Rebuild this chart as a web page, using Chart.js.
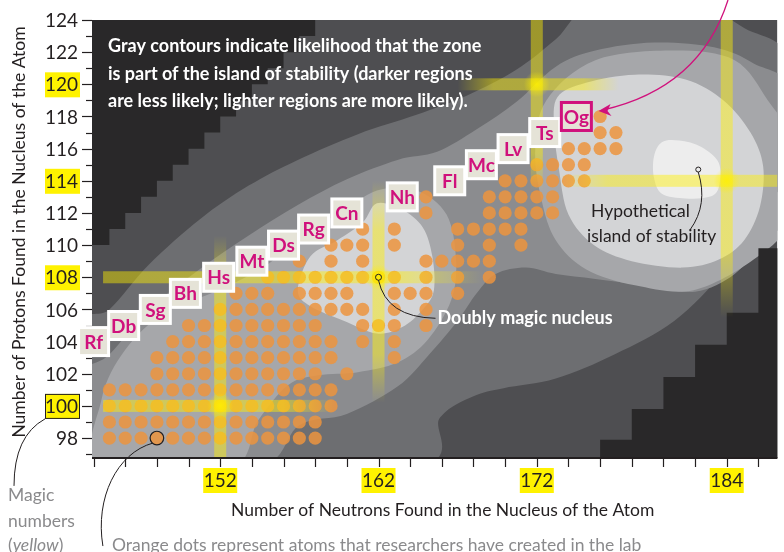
<!DOCTYPE html>
<html>
<head>
<meta charset="utf-8">
<script src="https://cdn.jsdelivr.net/npm/chart.js@4/dist/chart.umd.min.js"></script>
<style>
  html, body { margin: 0; padding: 0; background: #fff; }
  #wrap { width: 784px; height: 552px; }
</style>
</head>
<body>
<div id="wrap"><canvas id="chart"></canvas></div>
<script>
// Created nuclei: one row of neutron numbers per proton number
const protons = [98, 99, 100, 101, 102, 103, 104, 105, 106, 107, 108, 109, 110, 111, 112, 113, 114, 115, 116, 117, 118];
const neutronsPerRow = [
  [145, 146, 147, 148, 149, 150, 151, 152, 153, 154, 155, 156, 157, 158],
  [145, 146, 147, 148, 149, 150, 151, 152, 153, 154, 155, 156, 157, 158],
  [145, 146, 147, 148, 149, 150, 151, 152, 153, 154, 155, 156, 157, 158, 159],
  [145, 146, 147, 148, 149, 150, 151, 152, 153, 154, 155, 156, 157, 158, 159],
  [148, 149, 150, 151, 152, 153, 154, 155, 156, 157, 158, 160],
  [148, 149, 150, 151, 152, 153, 154, 155, 156, 157, 158, 159, 163],
  [149, 150, 151, 152, 153, 154, 155, 156, 157, 158, 159, 161, 163],
  [150, 151, 152, 153, 154, 155, 156, 157, 158, 161, 162, 163, 165],
  [152, 153, 154, 155, 156, 157, 158, 159, 160, 161, 163, 165],
  [153, 154, 155, 157, 158, 159, 160, 163, 164, 165, 167],
  [155, 156, 157, 158, 159, 160, 161, 162, 163, 165, 167, 169],
  [157, 159, 161, 165, 166, 167, 168, 169],
  [159, 160, 161, 163, 167, 169, 171],
  [161, 163, 167, 168, 169, 170, 171],
  [165, 169, 170, 171, 172, 173],
  [165, 169, 170, 171, 172, 173],
  [170, 171, 172, 173, 174, 175],
  [172, 173, 174, 175],
  [174, 175, 176, 177],
  [176, 177],
  [176]
];

// Element labels along the edge of the known region
const elements = ['Rf', 'Db', 'Sg', 'Bh', 'Hs', 'Mt', 'Ds', 'Rg', 'Cn', 'Nh', 'Fl', 'Mc', 'Lv', 'Ts', 'Og'];
const elementZ = [104, 105, 106, 107, 108, 109, 110, 111, 112, 113, 114, 115, 116, 117, 118];
const elementN = [144, 145.9, 147.9, 149.8, 151.9, 154, 156, 157.9, 160, 163.5, 166.5, 168.5, 170.5, 172.5, 174.5];

// Magic numbers (yellow bands)
const magicN = [152, 162, 172, 184];
const magicNFrom = [96.8, 100.2, 113.4, 105.5];
const magicNTo = [110.6, 114, 124, 124];
const magicZ = [100, 108, 114, 120];
const magicZFrom = [144.6, 144.6, 173.4, 167];
const magicZTo = [159.2, 168.6, 187.2, 177.2];

// Axis ticks
const yTicks = [98, 100, 102, 104, 106, 108, 110, 112, 114, 116, 118, 120, 122, 124];
const xLabels = [152, 162, 172, 184];

// Gray likelihood contours, [neutrons, protons]
const contourTopBlack = [[143, 125], [143, 110], [145, 110], [145, 111], [146, 111], [146, 112], [147, 112], [147, 113],
  [148, 113], [148, 114], [149, 114], [149, 115], [150, 115], [150, 116], [151, 116], [151, 117], [152, 117], [152, 118],
  [153, 118], [153, 119], [154, 119], [154, 120], [155, 120], [155, 121], [156, 121], [156, 122], [157, 122], [157, 123],
  [158, 123], [158, 125]];
const contourBottomBlack = [[176, 96], [176, 97.9], [178, 97.9], [178, 99.8], [180, 99.8], [180, 101.8], [182, 101.8],
  [182, 103.8], [184, 103.8], [184, 105.8], [186, 105.8], [186, 109.8], [188, 109.8], [188, 96]];
const contourBand1 = [[143, 96], [163.8, 96], [165.9, 99.3], [168, 100.6], [169.9, 101.1], [173.2, 101.7], [176.9, 103.2],
  [180.7, 105.3], [183.8, 108.4], [185.7, 111.9], [188, 114.7], [188, 121.5], [185.1, 123.5], [181.9, 125], [175.7, 125],
  [173.2, 122.8], [170.7, 120.9], [167.6, 119.3], [164.4, 118.1], [160.7, 116.9], [156.9, 115.3], [153.8, 113.7],
  [150.7, 111.6], [147.5, 108.8], [145, 106], [143, 104.7]];
const contourBand2 = [[143, 96], [154, 96], [157, 98.8], [160, 99.5], [163.2, 101.2], [165.2, 103.2], [167, 105.3],
  [168.2, 107], [169.4, 108.2], [171.3, 108.6], [173.2, 108.2], [175.7, 107.9], [178.8, 107.5], [182, 107.1], [184.5, 108.2],
  [186.3, 110.3], [188, 112.2], [188, 119.5], [185.7, 121.3], [183.2, 122.3], [179.4, 122.6], [175.7, 122.1], [173.2, 121.1],
  [170.7, 118.9], [168.2, 117.2], [165.7, 115.8], [163.2, 115.3], [160, 114.1], [156.9, 112.5], [153.8, 110.6], [150.7, 108.5],
  [147.5, 106], [145, 103.2], [143, 101.6]];
const contourBand3a = [[144.4, 96], [144.5, 100.4], [146, 103.5], [148.5, 105.8], [151.9, 107.2], [155, 108.8], [156.9, 110.6],
  [159.4, 111.9], [161.9, 113.4], [164.4, 113.4], [166.3, 111.9], [166.9, 109.1], [166.6, 106.6], [165.1, 104.1], [163.2, 102.7],
  [160.7, 102.1], [158.2, 101.9], [156.3, 101.3], [154.4, 99.1], [152.5, 96]];
const contourBand3b = [[172.6, 119], [175.7, 121.5], [180.7, 122.1], [184.5, 121.5], [186.6, 119], [188, 116.5], [188, 111.6],
  [185.7, 109.1], [181.9, 107.2], [178.2, 107.5], [175.1, 108.5], [173.2, 110.3], [172.3, 112.8], [171.9, 115.9]];
const contourMagicBlob = [[156.9, 107.2], [157.7, 109.3], [159.4, 110.3], [161, 111.4], [161.9, 112.6], [163.5, 112.2],
  [164.8, 111.1], [165.4, 109.3], [165.5, 107.2], [164.8, 106], [163.5, 104.9], [161.9, 104.5], [159.8, 105.3], [157.7, 106.2]];
const contourIsland = [[173.3, 119.2], [175.1, 120.1], [178.2, 120.6], [181.4, 120.3], [183.8, 119], [185.5, 117], [186.3, 114.9],
  [186.1, 112.4], [185.1, 110.3], [183.5, 109.1], [181.2, 108.6], [178, 109], [175.6, 110], [174, 111.9], [173.4, 114.7], [173.1, 117.2]];
const contourIslandCore = [[179.4, 115.5], [179.9, 116.4], [181, 116.5], [182.4, 116.1], [183.5, 115.1], [183.5, 113.6],
  [182.9, 113], [181.4, 112.9], [179.9, 113.2], [179.4, 114.2]];

const contourLayers = [
  { pts: contourBand1, color: '#6d6e71', smooth: true },
  { pts: contourBand2, color: '#8b8c8f', smooth: true },
  { pts: contourBand3a, color: '#a6a7aa', smooth: true },
  { pts: contourBand3b, color: '#a6a7aa', smooth: true },
  { pts: contourMagicBlob, color: '#d3d4d6', smooth: true },
  { pts: contourIsland, color: '#d3d4d6', smooth: true },
  { pts: contourIslandCore, color: '#ededed', smooth: true },
  { pts: contourTopBlack, color: '#292829', smooth: false },
  { pts: contourBottomBlack, color: '#292829', smooth: false }
];

const points = [];
protons.forEach((z, i) => neutronsPerRow[i].forEach(n => points.push({ x: n, y: z })));

const FONT = 'Lato, "Open Sans", sans-serif';
const INK = '#231f20';
const MAGENTA = '#d0117c';

function pathThrough(ctx, pts, smooth) {
  const n = pts.length;
  ctx.beginPath();
  ctx.moveTo(pts[0][0], pts[0][1]);
  for (let i = 0; i < n; i++) {
    const p0 = pts[(i - 1 + n) % n], p1 = pts[i], p2 = pts[(i + 1) % n], p3 = pts[(i + 2) % n];
    if (smooth) {
      ctx.bezierCurveTo(p1[0] + (p2[0] - p0[0]) / 6, p1[1] + (p2[1] - p0[1]) / 6,
        p2[0] - (p3[0] - p1[0]) / 6, p2[1] - (p3[1] - p1[1]) / 6, p2[0], p2[1]);
    } else {
      ctx.lineTo(p2[0], p2[1]);
    }
  }
  ctx.closePath();
}

// Background: contour shading
const contourPlugin = {
  id: 'contours',
  beforeDatasetsDraw(chart) {
    const { ctx, chartArea: a, scales: { x, y } } = chart;
    ctx.save();
    ctx.beginPath();
    ctx.rect(a.left, a.top, a.right - a.left, a.bottom - a.top);
    ctx.clip();
    ctx.fillStyle = '#4e4e51';
    ctx.fillRect(a.left, a.top, a.right - a.left, a.bottom - a.top);
    contourLayers.forEach(l => {
      const px = l.pts.map(p => [x.getPixelForValue(p[0]), y.getPixelForValue(p[1])]);
      pathThrough(ctx, px, l.smooth);
      ctx.fillStyle = l.color;
      ctx.fill();
    });
    ctx.restore();
  }
};

// Yellow magic-number bands, drawn over the dots
const magicPlugin = {
  id: 'magic',
  afterDatasetsDraw(chart) {
    const { ctx, chartArea: a, scales: { x, y } } = chart;
    const half = 6;
    ctx.save();
    ctx.beginPath();
    ctx.rect(a.left, a.top, a.right - a.left, a.bottom - a.top);
    ctx.clip();
    const band = (x0, y0, x1, y1, fadeStart, fadeEnd) => {
      const g = ctx.createLinearGradient(x0, y0, x1, y1);
      g.addColorStop(0, fadeStart ? 'rgba(255,240,0,0)' : 'rgba(255,240,0,0.45)');
      g.addColorStop(0.22, 'rgba(255,240,0,0.45)');
      g.addColorStop(0.78, 'rgba(255,240,0,0.45)');
      g.addColorStop(1, fadeEnd ? 'rgba(255,240,0,0)' : 'rgba(255,240,0,0.45)');
      ctx.fillStyle = g;
      if (x0 === x1) ctx.fillRect(x0 - half, Math.min(y0, y1), half * 2, Math.abs(y1 - y0));
      else ctx.fillRect(Math.min(x0, x1), y0 - half, Math.abs(x1 - x0), half * 2);
    };
    magicN.forEach((n, i) => {
      const px = x.getPixelForValue(n);
      band(px, y.getPixelForValue(magicNFrom[i]), px, y.getPixelForValue(magicNTo[i]),
        magicNFrom[i] > 97, magicNTo[i] < 124);
    });
    magicZ.forEach((z, i) => {
      const py = y.getPixelForValue(z);
      band(x.getPixelForValue(magicZFrom[i]), py, x.getPixelForValue(magicZTo[i]), py,
        magicZFrom[i] > 145, magicZTo[i] < 187);
    });
    // glow where two magic numbers meet
    magicN.forEach((n, i) => magicZ.forEach(z => {
      if (z < magicNFrom[i] || z > magicNTo[i]) return;
      const j = magicZ.indexOf(z);
      if (n < magicZFrom[j] || n > magicZTo[j]) return;
      const cx = x.getPixelForValue(n), cy = y.getPixelForValue(z);
      const g = ctx.createRadialGradient(cx, cy, 0, cx, cy, 13);
      g.addColorStop(0, 'rgba(255,240,0,0.8)');
      g.addColorStop(1, 'rgba(255,240,0,0)');
      ctx.fillStyle = g;
      ctx.fillRect(cx - 13, cy - 13, 26, 26);
    }));
    ctx.restore();
  }
};

// Axes, element labels and notes
const overlayPlugin = {
  id: 'overlay',
  afterDraw(chart) {
    const { ctx, chartArea: a, scales: { x, y } } = chart;
    ctx.save();

    // axis lines and ticks
    ctx.strokeStyle = INK;
    ctx.lineWidth = 2;
    ctx.beginPath();
    ctx.moveTo(a.left, a.bottom); ctx.lineTo(a.right, a.bottom);
    ctx.stroke();
    ctx.lineWidth = 1.2;
    for (let z = 97; z <= 124; z++) {
      const py = Math.round(y.getPixelForValue(z)) + 0.5;
      ctx.beginPath();
      ctx.moveTo(a.left - (z % 2 === 0 ? 10 : 6), py); ctx.lineTo(a.left, py);
      ctx.stroke();
    }
    for (let n = 144; n <= 186; n += 2) {
      const px = Math.round(x.getPixelForValue(n)) + 0.5;
      ctx.beginPath();
      ctx.moveTo(px, a.bottom); ctx.lineTo(px, a.bottom + 9);
      ctx.stroke();
    }

    // tick labels
    ctx.font = '19px ' + FONT;
    ctx.textBaseline = 'middle';
    ctx.textAlign = 'right';
    yTicks.forEach(z => {
      const py = y.getPixelForValue(z);
      if (magicZ.includes(z)) {
        ctx.fillStyle = '#fff200';
        ctx.fillRect(a.left - 47, py - 12, 35, 25);
        if (z === 100) { ctx.strokeStyle = INK; ctx.lineWidth = 1; ctx.strokeRect(a.left - 46.5, py - 11.5, 34, 24); }
      }
      ctx.fillStyle = INK;
      ctx.fillText(String(z), a.left - 14, py + 1);
    });
    ctx.textAlign = 'center';
    xLabels.forEach(n => {
      const px = x.getPixelForValue(n);
      ctx.fillStyle = '#fff200';
      ctx.fillRect(px - 17, a.bottom + 10, 34, 25);
      ctx.fillStyle = INK;
      ctx.fillText(String(n), px, a.bottom + 23);
    });

    // axis titles
    ctx.font = '17.5px ' + FONT;
    ctx.fillStyle = INK;
    ctx.fillText('Number of Neutrons Found in the Nucleus of the Atom', (a.left + a.right) / 2 + 8, 510);
    ctx.save();
    ctx.translate(19, 232);
    ctx.rotate(-Math.PI / 2);
    ctx.fillText('Number of Protons Found in the Nucleus of the Atom', 0, 0);
    ctx.restore();

    // element boxes
    ctx.font = 'bold 19px ' + FONT;
    elements.forEach((el, i) => {
      const cx = x.getPixelForValue(elementN[i]);
      const cy = y.getPixelForValue(elementZ[i]);
      const last = i === elements.length - 1;
      ctx.fillStyle = last ? MAGENTA : '#ffffff';
      ctx.fillRect(cx - 16.5, cy - 15.5, 33, 31);
      ctx.fillStyle = '#e5e3d7';
      ctx.fillRect(cx - 13.5, cy - 12.5, 27, 25);
      ctx.fillStyle = MAGENTA;
      ctx.fillText(el, cx, cy + 1);
    });

    // circled dot
    const dx = x.getPixelForValue(148), dy = y.getPixelForValue(98);
    ctx.strokeStyle = INK;
    ctx.lineWidth = 1.2;
    ctx.beginPath(); ctx.arc(dx, dy, 6.8, 0, Math.PI * 2); ctx.stroke();

    // pointer lines
    ctx.lineWidth = 1;
    ctx.beginPath();
    ctx.moveTo(dx - 4, dy + 5);
    ctx.bezierCurveTo(dx - 40, dy + 15, dx - 62, dy + 60, dx - 54, dy + 108);
    ctx.stroke();
    const my = y.getPixelForValue(100);
    ctx.beginPath();
    ctx.moveTo(a.left - 47, my + 13);
    ctx.quadraticCurveTo(14, my + 30, 14, my + 80);
    ctx.stroke();

    // doubly magic nucleus
    const mx = x.getPixelForValue(162), mz = y.getPixelForValue(108);
    ctx.beginPath(); ctx.arc(mx, mz, 3, 0, Math.PI * 2); ctx.stroke();
    ctx.beginPath();
    ctx.moveTo(mx, mz + 3);
    ctx.quadraticCurveTo(mx + 8, mz + 40, mx + 57, mz + 41);
    ctx.stroke();
    ctx.fillStyle = '#ffffff';
    ctx.font = 'bold 18px ' + FONT;
    ctx.textAlign = 'left';
    ctx.fillText('Doubly magic nucleus', mx + 59, mz + 41);

    // island of stability
    const ix = x.getPixelForValue(182.2), iy = y.getPixelForValue(114.7);
    ctx.strokeStyle = INK;
    ctx.beginPath(); ctx.arc(ix, iy, 2.5, 0, Math.PI * 2); ctx.stroke();
    ctx.beginPath();
    ctx.moveTo(ix, iy + 2.5);
    ctx.quadraticCurveTo(ix + 10, iy + 35, ix - 8, iy + 60);
    ctx.stroke();
    ctx.fillStyle = INK;
    ctx.font = '17.5px ' + FONT;
    ctx.fillText('Hypothetical', 591, 211);
    ctx.fillText('island of stability', 587, 236);

    // Og arrow
    const ox = x.getPixelForValue(175.9), oy = y.getPixelForValue(118.4);
    ctx.strokeStyle = MAGENTA;
    ctx.lineWidth = 1.3;
    ctx.beginPath();
    ctx.moveTo(728, 0);
    ctx.quadraticCurveTo(700, 88, ox + 4, oy);
    ctx.stroke();
    ctx.fillStyle = MAGENTA;
    ctx.beginPath();
    ctx.moveTo(ox, oy + 1);
    ctx.lineTo(ox + 12, oy - 6);
    ctx.lineTo(ox + 9, oy + 1);
    ctx.lineTo(ox + 13, oy + 6);
    ctx.closePath();
    ctx.fill();

    // top note
    ctx.fillStyle = '#ffffff';
    ctx.font = 'bold 18px ' + FONT;
    ctx.fillText('Gray contours indicate likelihood that the zone', 108, 46);
    ctx.fillText('is part of the island of stability (darker regions', 108, 74);
    ctx.fillText('are less likely; lighter regions are more likely).', 108, 101);

    // bottom notes
    ctx.fillStyle = '#8a8a8c';
    ctx.font = '17.5px ' + FONT;
    ctx.fillText('Magic', 8, 495);
    ctx.fillText('numbers', 8, 521);
    ctx.fillText('(', 8, 545);
    let w = ctx.measureText('(').width;
    ctx.font = 'italic 17.5px ' + FONT;
    ctx.fillText('yellow', 8 + w, 545);
    w += ctx.measureText('yellow').width;
    ctx.font = '17.5px ' + FONT;
    ctx.fillText(')', 8 + w, 545);
    ctx.fillText('Orange dots represent atoms that researchers have created in the lab', 112, 545);

    ctx.restore();
  }
};

new Chart(document.getElementById('chart'), {
  type: 'scatter',
  data: {
    datasets: [{
      data: points,
      pointRadius: 6.6,
      pointHoverRadius: 6.6,
      backgroundColor: 'rgba(236,148,62,0.85)',
      borderWidth: 0
    }]
  },
  options: {
    responsive: true,
    maintainAspectRatio: false,
    animation: false,
    layout: { padding: { left: 92, right: 0, top: 20, bottom: 94 } },
    scales: {
      x: { type: 'linear', min: 143.9, max: 187.2, display: false },
      y: { type: 'linear', min: 96.76, max: 124, display: false }
    },
    plugins: { legend: { display: false }, tooltip: { enabled: false } }
  },
  plugins: [contourPlugin, magicPlugin, overlayPlugin]
});
</script>
</body>
</html>
